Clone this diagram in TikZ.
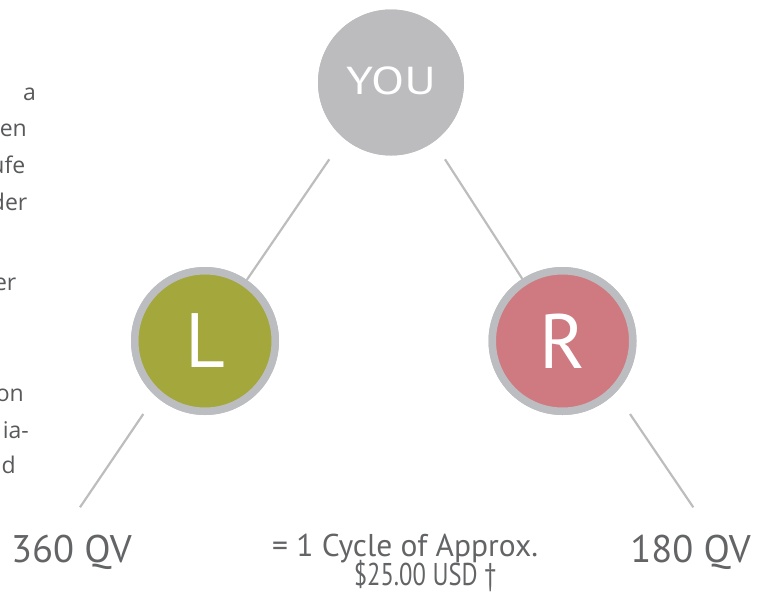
\documentclass[tikz,border=0pt]{standalone}
\usepackage{fontspec}
\setmainfont{PT Sans}
\newfontfamily\sidefont{Open Sans}
\usetikzlibrary{calc}
\definecolor{ringgray}{HTML}{BCBDC0}
\definecolor{yougray}{HTML}{BCBCBE}
\definecolor{olive}{HTML}{A3A73C}
\definecolor{rose}{HTML}{CF7A81}
\definecolor{linkgray}{HTML}{BDBDBD}
\definecolor{labelgray}{HTML}{636466}
\definecolor{sidegray}{HTML}{58595B}
\tikzset{
  link/.style={draw=linkgray, line width=2.2pt},
  youbox/.style={circle, fill=yougray, minimum size=146pt, inner sep=0pt, outer sep=0pt,
    text=white, font=\fontsize{39}{39}\selectfont},
  legbox/.style={circle, draw=ringgray, line width=7.5pt, minimum size=140.5pt,
    inner sep=0pt, outer sep=3.75pt, text=white, font=\fontsize{77}{77}\selectfont},
  qvlabel/.style={inner sep=0pt, text=labelgray, font=\fontsize{38.5}{38.5}\selectfont},
  cyclabel/.style={inner sep=0pt, anchor=base, text=labelgray, font=\fontsize{31.5}{31.5}\selectfont},
  sidetext/.style={inner sep=0pt, anchor=base east, text=sidegray,
    font=\sidefont\fontsize{23}{23}\selectfont},
}
\begin{document}
\begin{tikzpicture}[x=1pt, y=-1pt]
\useasboundingbox (0,0) rectangle (766,592);
\begin{scope}
\clip (0,0) rectangle (766,592);
% side text fragments
\node[sidetext] (s1) at (36,100) {a};
\node[sidetext] (s2) at (27,136.7) {en};
\node[sidetext] (s3) at (25.5,173) {ufe};
\node[sidetext] (s4) at (27.5,210) {der};
\node[sidetext] (s5) at (16.5,290) {er};
\node[sidetext] (s6) at (24,401.7) {on};
\node[sidetext] (s7) at (29,438) {ia-};
\node[sidetext] (s8) at (16,473.5) {d};

% nodes (placed first so connectors can refer to them)
\node[youbox] (you) at (391,82.5) {};
\node[legbox, fill=olive] (l) at (205,341) {};
\node[legbox, fill=rose] (r) at (562.5,341) {};

% connector end points
\coordinate (ytl) at (329.3,159.3);
\coordinate (ytr) at (445,159.3);
\coordinate (lt) at (143.3,414);
\coordinate (lb) at (80,507.3);
\coordinate (rt) at (630,414);
\coordinate (rb) at (693.3,507.3);

\draw[link] (ytl) -- (l);
\draw[link] (ytr) -- (r);
\draw[link] (lt) -- (lb);
\draw[link] (rt) -- (rb);

% redraw circles above the connectors
\node[youbox] at (you.center) {\raisebox{4.5pt}{\scalebox{1.24}[1]{YOU}}};
\node[legbox, fill=olive] at (l.center) {\raisebox{-2pt}{L}};
\node[legbox, fill=rose] at (r.center) {\raisebox{-2pt}{R}};

% labels
\node[qvlabel, anchor=base west] (qvl) at (11,562) {360 QV};
\node[qvlabel, anchor=base east] (qvr) at (751,562) {180 QV};
\node[cyclabel] (cyc1) at (405,556) {= 1 Cycle of Approx.};
\node[cyclabel] (cyc2) at (425,585) {\scalebox{0.78}[1]{\$25.00 USD †}};
\end{scope}
\end{tikzpicture}
\end{document}
